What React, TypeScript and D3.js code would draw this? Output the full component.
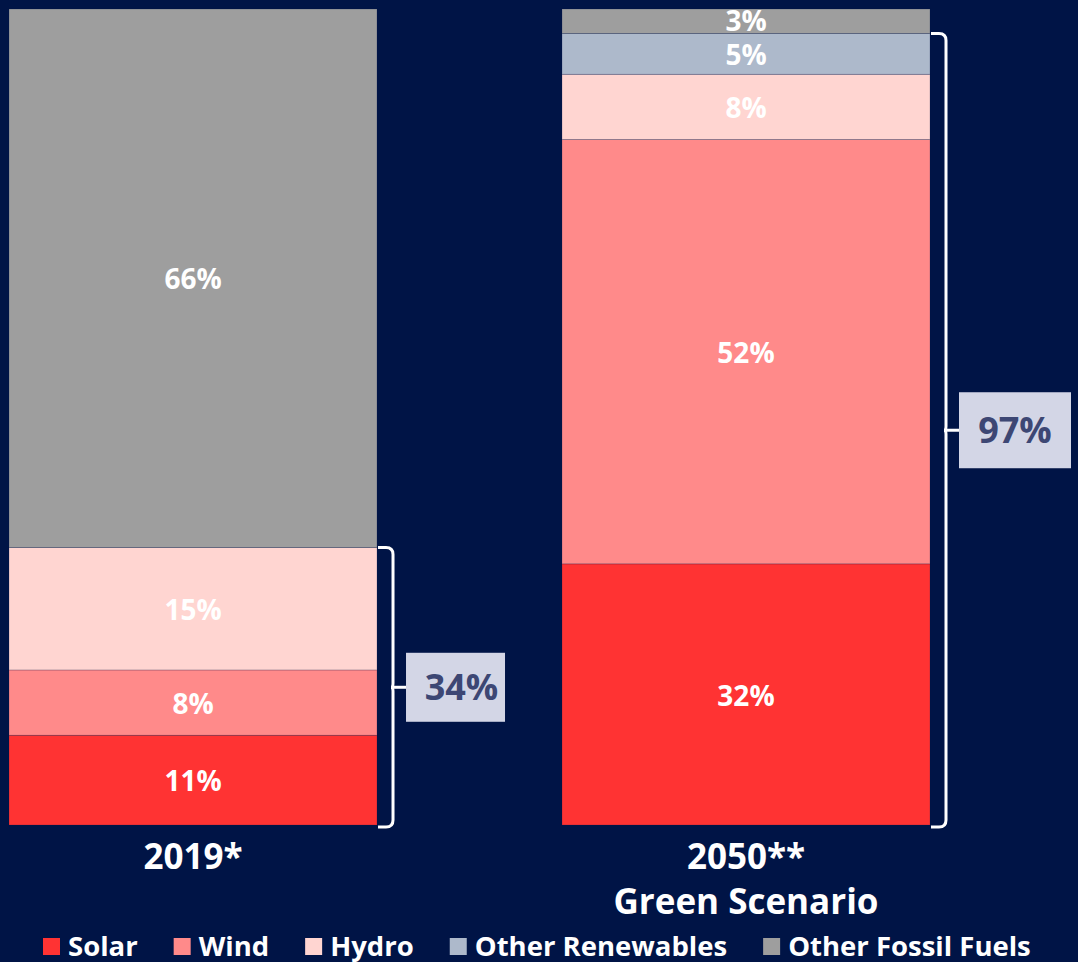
import * as React from "react";
import * as d3 from "d3";

const W = 1078;
const H = 962;

const categories = ["2019*", "2050**"];
const subLabels = ["", "Green Scenario"];
const sources = ["Solar", "Wind", "Hydro", "Other Renewables", "Other Fossil Fuels"];
const colors = ["#ff3333", "#ff8a8a", "#ffd5d1", "#adb9cb", "#9e9e9e"];
// shares per source, bottom to top
const share2019 = [11, 8, 15, 0, 66];
const share2050 = [32, 52, 8, 5, 3];
// renewable totals shown in the boxes
const renewableTotals = [34, 97];

const BG = "#001446";
const FONT = "'Open Sans', 'Noto Sans', sans-serif";

export default function App() {
  const svgRef = React.useRef<SVGSVGElement>(null);

  React.useEffect(() => {
    if (!svgRef.current) return;
    const svg = d3.select(svgRef.current);
    svg.selectAll("*").remove();

    svg.append("rect").attr("width", W).attr("height", H).attr("fill", BG);

    const x = d3.scaleBand<string>()
      .domain(categories)
      .range([9, 930])
      .paddingInner(0.3345)
      .paddingOuter(0);
    const y = d3.scaleLinear().domain([0, 100]).range([825, 9]);

    const values = [share2019, share2050];

    categories.forEach((cat, ci) => {
      const stackVals = values[ci];
      let acc = 0;
      const g = svg.append("g");
      stackVals.forEach((v, si) => {
        if (v <= 0) return;
        const y0 = y(acc);
        const y1 = y(acc + v);
        acc += v;
        g.append("rect")
          .attr("x", x(cat)!)
          .attr("y", y1)
          .attr("width", x.bandwidth())
          .attr("height", y0 - y1)
          .attr("fill", colors[si])
          .attr("stroke", "rgba(0,20,70,0.25)")
          .attr("stroke-width", 0.8);
      });
      // labels drawn after all rects so none is hidden
      acc = 0;
      stackVals.forEach((v) => {
        if (v <= 0) return;
        const y0 = y(acc);
        const y1 = y(acc + v);
        acc += v;
        g.append("text")
          .attr("x", x(cat)! + x.bandwidth() / 2)
          .attr("y", (y0 + y1) / 2 + (v < 4 ? 0 : 1))
          .attr("dy", "0.36em")
          .attr("text-anchor", "middle")
          .attr("fill", "#ffffff")
          .attr("font-family", FONT)
          .attr("font-weight", 700)
          .attr("font-size", 28)
          .text(`${v}%`);
      });

      // category labels
      const cx = x(cat)! + x.bandwidth() / 2;
      svg.append("text")
        .attr("x", cx)
        .attr("y", 869)
        .attr("text-anchor", "middle")
        .attr("fill", "#ffffff")
        .attr("font-family", FONT)
        .attr("font-weight", 700)
        .attr("font-size", 35)
        .text(cat);
      if (subLabels[ci]) {
        svg.append("text")
          .attr("x", cx)
          .attr("y", 914)
          .attr("text-anchor", "middle")
          .attr("fill", "#ffffff")
          .attr("font-family", FONT)
          .attr("font-weight", 700)
          .attr("font-size", 35)
          .text(subLabels[ci]);
      }

      // brace around the renewable part
      const total = renewableTotals[ci];
      const right = x(cat)! + x.bandwidth();
      const top = y(total);
      const bot = y(0) + 2;
      const xv = right + 16;
      const mid = (top + bot) / 2;
      const r = 7;
      const brace = d3.path();
      brace.moveTo(right + 1, top);
      brace.lineTo(xv - r, top);
      brace.quadraticCurveTo(xv, top, xv, top + r);
      brace.lineTo(xv, mid - 4);
      brace.quadraticCurveTo(xv, mid, xv - 2, mid);
      brace.quadraticCurveTo(xv, mid, xv, mid + 4);
      brace.lineTo(xv, bot - r);
      brace.quadraticCurveTo(xv, bot, xv - r, bot);
      brace.lineTo(right + 1, bot);
      svg.append("path")
        .attr("d", brace.toString())
        .attr("fill", "none")
        .attr("stroke", "#ffffff")
        .attr("stroke-width", 3);

      const boxX = xv + 13;
      const boxW = ci === 0 ? 99 : 112;
      const boxH = ci === 0 ? 69 : 76;
      svg.append("line")
        .attr("x1", xv).attr("x2", boxX)
        .attr("y1", mid).attr("y2", mid)
        .attr("stroke", "#ffffff")
        .attr("stroke-width", 3);
      svg.append("rect")
        .attr("x", boxX)
        .attr("y", mid - boxH / 2)
        .attr("width", boxW)
        .attr("height", boxH)
        .attr("fill", "#d3d6e6");
      svg.append("text")
        .attr("x", boxX + boxW / 2 + (ci === 0 ? 6 : 0))
        .attr("y", mid)
        .attr("dy", "0.36em")
        .attr("text-anchor", "middle")
        .attr("fill", "#3d4774")
        .attr("font-family", FONT)
        .attr("font-weight", 700)
        .attr("font-size", 36)
        .text(`${total}%`);
    });

    // legend
    const legend = svg.append("g");
    let lx = 43;
    sources.forEach((s, i) => {
      legend.append("rect")
        .attr("x", lx)
        .attr("y", 938)
        .attr("width", 17)
        .attr("height", 17)
        .attr("fill", colors[i]);
      const t = legend.append("text")
        .attr("x", lx + 25)
        .attr("y", 956)
        .attr("fill", "#ffffff")
        .attr("font-family", FONT)
        .attr("font-weight", 700)
        .attr("font-size", 27.5)
        .text(s);
      const tw = (t.node() as SVGTextElement).getComputedTextLength();
      lx += 25 + tw + 36;
    });
  }, []);

  return (
    <div style={{ position: "absolute", left: 0, top: 0, width: W, height: H, background: BG }}>
      <svg ref={svgRef} width={W} height={H} style={{ display: "block" }} />
    </div>
  );
}
